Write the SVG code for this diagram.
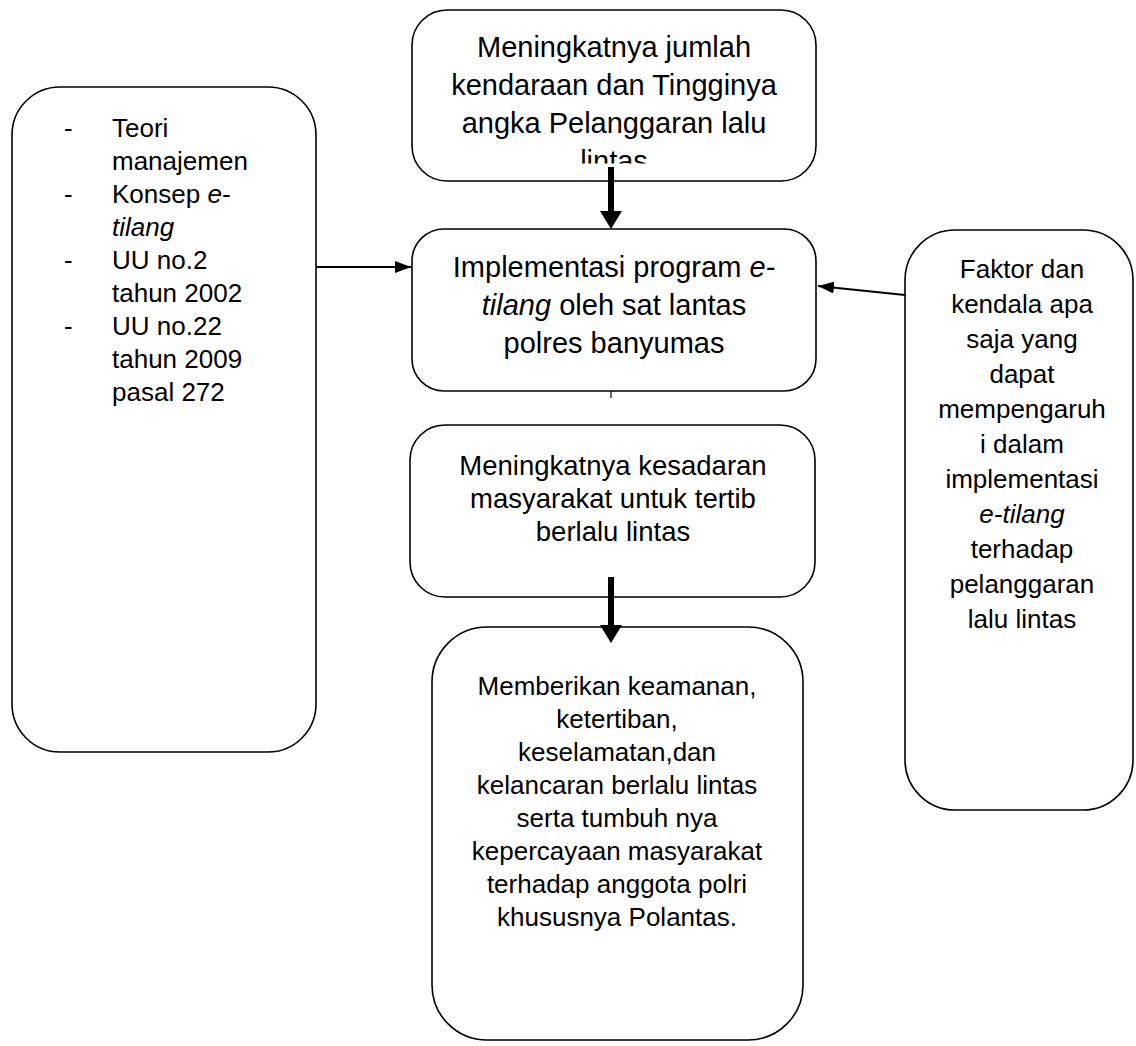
<svg xmlns="http://www.w3.org/2000/svg" width="1136" height="1046" viewBox="0 0 1136 1046">
<style>
.box{fill:#fff;stroke:#000;stroke-width:1.6}
text{font-family:"Liberation Sans",Arial,sans-serif;fill:#000}
.big{font-size:29px;text-anchor:middle}
.mid{font-size:27.5px;text-anchor:middle}
.sm{font-size:26px;text-anchor:middle}
.lst{font-size:26px}
.thin{stroke:#000;stroke-width:2;fill:none}
.thick{stroke:#000;stroke-width:6;fill:none}
</style>
<defs>
<marker id="ah" markerUnits="userSpaceOnUse" markerWidth="16" markerHeight="12" refX="16" refY="6" orient="auto">
<path d="M0,0 L16,6 L0,12 z" fill="#000"/>
</marker>
<marker id="ahb" markerUnits="userSpaceOnUse" markerWidth="18" markerHeight="22" refX="0" refY="11" orient="auto">
<path d="M0,0 L18,11 L0,22 z" fill="#000"/>
</marker>
<clipPath id="clipTop"><rect x="412" y="10" width="404" height="153.5"/></clipPath>
</defs>

<g id="node-top">
<rect class="box" x="412" y="10" width="404" height="171" rx="35"/>
<g clip-path="url(#clipTop)">
<text class="big" x="614" y="57">Meningkatnya jumlah</text>
<text class="big" x="614" y="95">kendaraan dan Tingginya</text>
<text class="big" x="614" y="133">angka Pelanggaran lalu</text>
<text class="big" x="614" y="171">lintas</text>
</g>
</g>

<g id="node-impl">
<rect class="box" x="412" y="229" width="404" height="162" rx="32"/>
<text class="big" x="614" y="277">Implementasi program <tspan font-style="italic">e-</tspan></text>
<text class="big" x="614" y="315"><tspan font-style="italic">tilang</tspan> oleh sat lantas</text>
<text class="big" x="614" y="353">polres banyumas</text>
</g>

<g id="node-teori">
<rect class="box" x="12" y="87" width="304" height="665" rx="48"/>
<text class="lst" x="64" y="137">-</text>
<text class="lst" x="112" y="137">Teori</text>
<text class="lst" x="112" y="170">manajemen</text>
<text class="lst" x="64" y="203">-</text>
<text class="lst" x="112" y="203">Konsep <tspan font-style="italic">e-</tspan></text>
<text class="lst" x="112" y="236" font-style="italic">tilang</text>
<text class="lst" x="64" y="269">-</text>
<text class="lst" x="112" y="269">UU no.2</text>
<text class="lst" x="112" y="302">tahun 2002</text>
<text class="lst" x="64" y="335">-</text>
<text class="lst" x="112" y="335">UU no.22</text>
<text class="lst" x="112" y="368">tahun 2009</text>
<text class="lst" x="112" y="401">pasal 272</text>
</g>

<g id="node-faktor">
<rect class="box" x="905" y="230" width="228" height="580" rx="50"/>
<text class="sm" x="1022" y="278">Faktor dan</text>
<text class="sm" x="1022" y="313">kendala apa</text>
<text class="sm" x="1022" y="348">saja yang</text>
<text class="sm" x="1022" y="383">dapat</text>
<text class="sm" x="1022" y="418">mempengaruh</text>
<text class="sm" x="1022" y="453">i dalam</text>
<text class="sm" x="1022" y="488">implementasi</text>
<text class="sm" x="1022" y="523" font-style="italic">e-tilang</text>
<text class="sm" x="1022" y="558">terhadap</text>
<text class="sm" x="1022" y="593">pelanggaran</text>
<text class="sm" x="1022" y="628">lalu lintas</text>
</g>

<g id="node-kesadaran">
<rect class="box" x="410" y="425" width="405" height="172" rx="35"/>
<text class="mid" x="613" y="475">Meningkatnya kesadaran</text>
<text class="mid" x="613" y="508">masyarakat untuk tertib</text>
<text class="mid" x="613" y="541">berlalu lintas</text>
</g>

<g id="node-hasil">
<rect class="box" x="432" y="627" width="371" height="413" rx="55"/>
<text class="sm" x="617" y="695">Memberikan keamanan,</text>
<text class="sm" x="617" y="728">ketertiban,</text>
<text class="sm" x="617" y="761">keselamatan,dan</text>
<text class="sm" x="617" y="794">kelancaran berlalu lintas</text>
<text class="sm" x="617" y="827">serta tumbuh nya</text>
<text class="sm" x="617" y="860">kepercayaan masyarakat</text>
<text class="sm" x="617" y="893">terhadap anggota polri</text>
<text class="sm" x="617" y="926">khususnya Polantas.</text>
</g>

<g id="connectors">
<line class="thick" x1="611" y1="167" x2="611" y2="211" marker-end="url(#ahb)"/>
<line class="thin" x1="316" y1="267" x2="411" y2="267" marker-end="url(#ah)"/>
<line class="thin" x1="905" y1="295" x2="818" y2="286" marker-end="url(#ah)"/>
<line x1="611" y1="391" x2="611" y2="398" stroke="#000" stroke-width="1.2"/>
<line class="thick" x1="611" y1="577" x2="611" y2="625" marker-end="url(#ahb)"/>
</g>
</svg>
